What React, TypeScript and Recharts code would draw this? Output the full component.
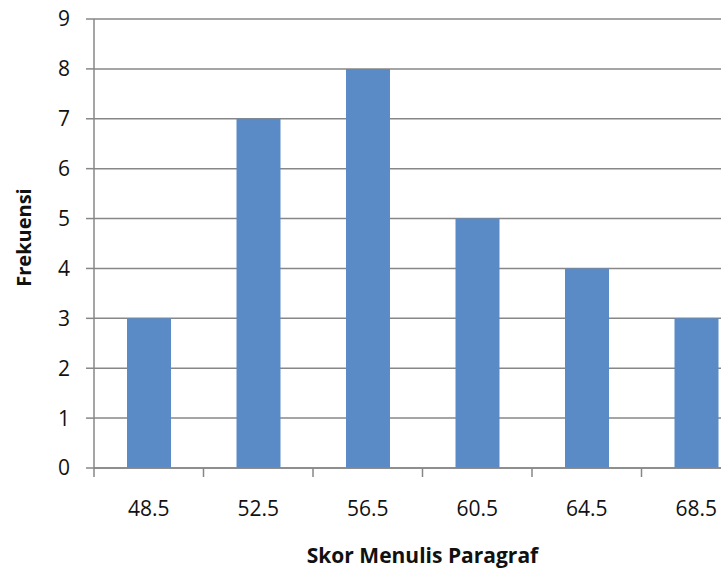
import { BarChart, Bar, XAxis, YAxis, CartesianGrid, Label } from 'recharts'

// frequency of writing scores per class midpoint
const skor = ['48.5', '52.5', '56.5', '60.5', '64.5', '68.5']
const frekuensi = [3, 7, 8, 5, 4, 3]
const yTicks = [0, 1, 2, 3, 4, 5, 6, 7, 8, 9]

const data = skor.map((s, i) => ({ skor: s, frekuensi: frekuensi[i] }))

const FONT = '"Open Sans", "Liberation Sans", sans-serif'
const GRID = '#878787'
const TEXT = '#111'

interface TickProps {
  x?: number
  y?: number
  payload?: { value: string; offset?: number }
}

// category label centered under the bar, tick mark on the left band edge
function SkorTick({ x = 0, y = 0, payload }: TickProps) {
  const half = payload?.offset ?? 0
  const left = x - half
  return (
    <g>
      <line x1={left} y1={y} x2={left} y2={y + 9} stroke={GRID} strokeWidth={1.5} />
      <text x={x} y={y + 48} textAnchor="middle" fill={TEXT} fontFamily={FONT} fontSize={21}>
        {payload?.value}
      </text>
    </g>
  )
}

export default function App() {
  return (
    <div style={{ position: 'absolute', left: 0, top: 0, width: 721, height: 572, overflow: 'hidden', background: '#fff' }}>
      <BarChart
        width={760}
        height={572}
        data={data}
        margin={{ top: 19, right: 9, left: 0, bottom: 0 }}
        barCategoryGap={0}
      >
        <CartesianGrid vertical={false} stroke={GRID} strokeWidth={1.5} />
        <XAxis
          dataKey="skor"
          height={104}
          axisLine={{ stroke: GRID, strokeWidth: 1.5 }}
          tickLine={false}
          tickSize={0}
          tickMargin={0}
          tick={<SkorTick />}
          interval={0}
        >
          <Label
            value="Skor Menulis Paragraf"
            position="insideBottom"
            offset={9}
            fill={TEXT}
            fontFamily={FONT}
            fontSize={21}
            fontWeight="bold"
          />
        </XAxis>
        <YAxis
          width={94}
          domain={[0, 9]}
          ticks={yTicks}
          interval={0}
          axisLine={{ stroke: GRID, strokeWidth: 1.5 }}
          tickLine={{ stroke: GRID, strokeWidth: 1.5 }}
          tickSize={8}
          tickMargin={16}
          tick={{ fill: TEXT, fontFamily: FONT, fontSize: 21 }}
        >
          <Label
            content={({ viewBox }) => {
              const vb = viewBox as { x: number; y: number; width: number; height: number }
              const cy = vb.y + vb.height / 2 - 6
              return (
                <text
                  x={31}
                  y={cy}
                  transform={`rotate(-90, 31, ${cy})`}
                  textAnchor="middle"
                  fill={TEXT}
                  fontFamily={FONT}
                  fontSize={20}
                  fontWeight="bold"
                >
                  Frekuensi
                </text>
              )
            }}
          />
        </YAxis>
        <Bar dataKey="frekuensi" fill="#5B8BC6" barSize={44} isAnimationActive={false} />
      </BarChart>
    </div>
  )
}
